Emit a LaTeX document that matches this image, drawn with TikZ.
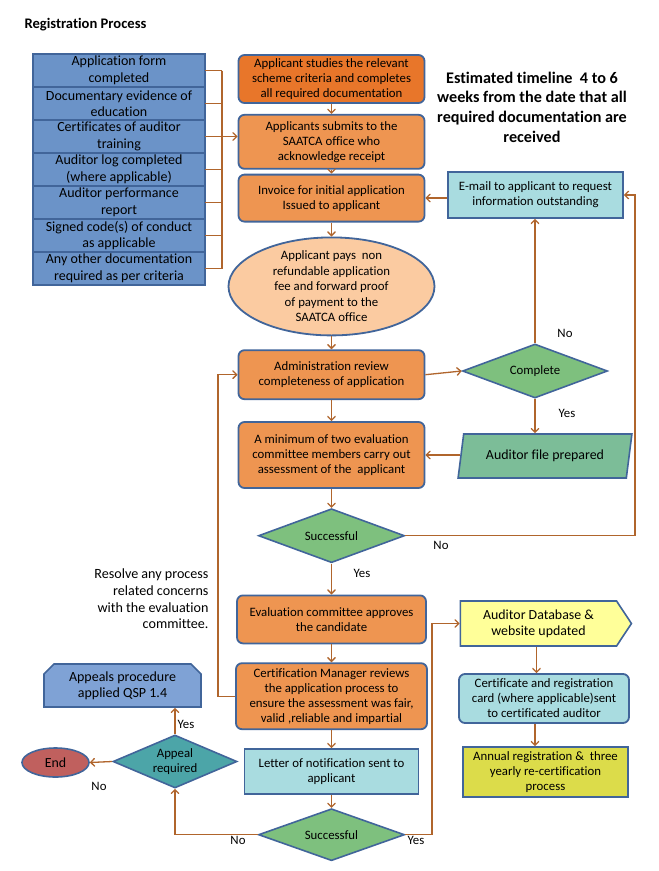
\documentclass[tikz,border=0pt]{standalone}
\usepackage{fontspec}
\setmainfont{Carlito}[Ligatures=NoCommon]
\usetikzlibrary{arrows,positioning,shapes.geometric,shapes.misc,shapes.symbols}

\definecolor{edgeblue}{HTML}{41659A}
\definecolor{flowline}{HTML}{B0652C}
\definecolor{docfill}{HTML}{6B93C8}
\definecolor{stepdark}{HTML}{E8762A}
\definecolor{stepfill}{HTML}{EE9551}
\definecolor{payfill}{HTML}{FBCBA1}
\definecolor{notefill}{HTML}{A9DCE0}
\definecolor{okgreen}{HTML}{7EC07E}
\definecolor{filegreen}{HTML}{7CBD98}
\definecolor{appealteal}{HTML}{4CA5A8}
\definecolor{endred}{HTML}{C0605E}
\definecolor{appealsfill}{HTML}{7FA2D5}
\definecolor{dbyellow}{HTML}{FFFF99}
\definecolor{annualyellow}{HTML}{DCDC4A}

\newcommand{\flowfont}{\fontsize{12.8}{15}\selectfont}
\newcommand{\docfont}{\fontsize{14}{16.5}\selectfont}

\begin{document}
\begin{tikzpicture}[x=1pt,y=-1pt,>=angle 90,node distance=12pt,
  stepbox/.style={rectangle,rounded corners=6pt,draw=edgeblue,line width=1.8pt,fill=stepfill,
    minimum width=186pt,inner sep=1pt,align=center,font=\flowfont},
  notebox/.style={rectangle,draw=edgeblue,line width=1.8pt,fill=notefill,
    inner sep=1pt,align=center,font=\flowfont},
  docbox/.style={rectangle,draw=edgeblue,line width=1.6pt,fill=docfill,minimum width=172pt,
    minimum height=33pt,inner sep=0pt,outer sep=0pt,align=center,font=\docfont},
  decision/.style={diamond,draw=edgeblue,line width=1.6pt,fill=okgreen,minimum width=146pt,
    minimum height=54pt,aspect=2.7,inner sep=0pt,align=center,font=\flowfont},
  tag/.style={font=\flowfont,inner sep=0pt},
  link/.style={draw=flowline,line width=1.3pt},
  flow/.style={link,->}]

  \useasboundingbox[fill=white] (0,0) rectangle (659,871);

  \node[anchor=west,font=\fontsize{14.6}{17}\selectfont\bfseries] (title) at (21,25) {Registration Process};

  % documents required
  \node[docbox] (doc1) at (119,70.5) {Application form\\completed};
  \node[docbox] (doc2) [below=0pt of doc1] {Documentary evidence of\\education};
  \node[docbox] (doc3) [below=0pt of doc2] {Certificates of auditor\\training};
  \node[docbox] (doc4) [below=0pt of doc3] {Auditor log completed\\(where applicable)};
  \node[docbox] (doc5) [below=0pt of doc4] {Auditor performance\\report};
  \node[docbox] (doc6) [below=0pt of doc5] {Signed code(s) of conduct\\as applicable};
  \node[docbox] (doc7) [below=0pt of doc6] {Any other documentation\\required as per criteria};
  \coordinate (brk) at (222,0);

  % main column
  \node[stepbox,fill=stepdark,minimum height=48pt] (study) at (331.5,79) {Applicant studies the relevant\\scheme criteria and completes\\all required documentation};
  \node[stepbox,minimum height=54pt] (submit) [below=10pt of study] {Applicants submits to the\\SAATCA office who\\acknowledge receipt};
  \node[stepbox,minimum height=47pt] (invoice) [below=4pt of submit] {Invoice for initial application\\Issued to applicant};
  \node[ellipse,draw=edgeblue,line width=1.8pt,fill=payfill,minimum width=206pt,minimum height=98pt,
    inner xsep=0pt,inner ysep=-4pt,align=center,font=\fontsize{12.8}{15.5}\selectfont] (pays) [below=14pt of invoice]
    {Applicant pays\ \ non\\refundable application\\fee and forward proof\\of payment to the\\SAATCA office};
  \node[stepbox,minimum height=49pt] (admin) [below=13pt of pays] {Administration review\\completeness of application};
  \node[stepbox,minimum height=66pt] (assess) [below=21pt of admin] {A minimum of two evaluation\\committee members carry out\\assessment of the\ \ applicant};
  \node[decision] (succA) [below=19pt of assess] {Successful};
  \node[stepbox,minimum height=48pt,minimum width=189pt] (approve) [below=31pt of succA] {Evaluation committee approves\\the candidate};
  \node[stepbox,minimum height=66pt,minimum width=191pt] (review) [below=18pt of approve] {Certification Manager reviews\\the application process to\\ensure the assessment was fair,\\valid ,reliable and impartial};
  \node[notebox,minimum width=174pt,minimum height=45pt] (letter) [below=18pt of review] {Letter of notification sent to\\applicant};
  \node[decision,minimum height=52pt] (succB) [below=13pt of letter] {Successful};

  % right side
  \node[align=center,font=\fontsize{16.2}{19.7}\selectfont\bfseries] (timeline) at (532,107)
    {Estimated timeline\ \ 4 to 6\\weeks from the date that all\\required documentation are\\received};
  \node[notebox,minimum width=175pt,minimum height=46pt] (email) at (535.5,195) {E-mail to applicant to request\\information outstanding};
  \node[decision,minimum width=145pt] (complete) at (535,371) {Complete};
  \node[trapezium,trapezium left angle=77,trapezium right angle=103,trapezium stretches=true,
    draw=edgeblue,line width=1.6pt,fill=filegreen,minimum width=174pt,minimum height=44pt,
    font=\fontsize{13.9}{16}\selectfont] (file) at (545,456) {Auditor file prepared};
  \node[signal,signal to=east,signal pointer angle=113,draw=edgeblue,line width=1.6pt,fill=dbyellow,
    minimum width=171pt,minimum height=45pt,inner sep=1pt,align=center,font=\fontsize{13.9}{16}\selectfont] (db) at (538.5,623.5)
    {Auditor Database \&\\website updated};
  \node[stepbox,fill=notefill,minimum width=170pt,minimum height=49pt] (card) at (544,698.5) {Certificate and registration\\card (where applicable)sent\\to certificated auditor};
  \node[notebox,fill=annualyellow,minimum width=165pt,minimum height=50pt] (annual) at (545.5,772) {Annual registration \&\ \ three\\yearly re-certification\\process};

  % left bottom
  \node[anchor=east,align=right,font=\fontsize{14.1}{16.7}\selectfont] (resolve) at (212,599)
    {Resolve any process\\related concerns\\with the evaluation\\committee.};
  \node[chamfered rectangle,chamfered rectangle corners={north west,north east},
    chamfered rectangle xsep=5pt,chamfered rectangle ysep=5pt,draw=edgeblue,line width=1.6pt,
    fill=appealsfill,minimum width=157pt,minimum height=43pt,inner sep=0pt,align=center,
    font=\fontsize{14}{16}\selectfont] (appeals) at (122.5,685.5) {Appeals procedure\\applied QSP 1.4};
  \node[decision,fill=appealteal,minimum width=124pt,minimum height=53pt,aspect=2.34] (appeal) at (175,761.5) {Appeal\\required};
  \node[ellipse,draw=edgeblue,line width=1.6pt,fill=endred,minimum width=67pt,minimum height=29pt,
    inner sep=0pt,font=\fontsize{13.9}{15}\selectfont] (finish) at (55.5,762.5) {End};

  % yes / no
  \node[tag] (noA) at (565,333) {No};
  \node[tag] (yesA) at (567,413) {Yes};
  \node[tag] (noB) at (441,545) {No};
  \node[tag] (yesB) at (362,573) {Yes};
  \node[tag] (yesC) at (186,724) {Yes};
  \node[tag] (noC) at (99,786) {No};
  \node[tag] (noD) at (238,840) {No};
  \node[tag] (yesD) at (416,840) {Yes};

  % bracket
  \path[link]
    (doc1.east) edge (doc1.east -| brk)
    (doc2.east) edge (doc2.east -| brk)
    (doc3.east) edge (doc3.east -| brk)
    (doc4.east) edge (doc4.east -| brk)
    (doc5.east) edge (doc5.east -| brk)
    (doc6.east) edge (doc6.east -| brk)
    (doc7.east) edge (doc7.east -| brk);
  \draw[link] (doc1.east -| brk) -- (doc7.east -| brk);
  \draw[flow] (doc3.east -| brk) -- (doc3.east -| submit.west);

  \path[flow]
    (study) edge (submit)
    (submit) edge (invoice)
    (invoice) edge (pays)
    (pays) edge (admin)
    (admin) edge (assess)
    (assess) edge (succA)
    (succA) edge (approve)
    (approve) edge (review)
    (review) edge (letter)
    (letter) edge (succB);

  \coordinate (rloop) at (635,0);
  \coordinate (lloop) at (218,0);
  \coordinate (rturn) at (432,0);
  \draw[flow] ([yshift=-3pt]email.west) -- ([yshift=-3pt]email.west -| invoice.east);
  \draw[flow] (complete.north) -- (complete.north |- email.south);
  \draw[flow] (admin.east) -- (complete.west);
  \draw[flow] (complete.south) -- (complete.south |- file.north);
  \draw[flow] (file.west |- assess.east) -- (assess.east);
  \draw[flow] (succA.east) -| (rloop |- email.east) -- (email.east);
  \draw[flow] (review.west) -- (review.west -| lloop) |- (admin.west);
  \draw[flow] (succB.west) -| (appeal.south);
  \draw[flow] (appeal.north) -- (appeal.north |- appeals.south);
  \draw[flow] (appeal.west) -- (finish.east);
  \draw[flow] (succB.east) -- (succB.east -| rturn) |- (db.west);
  \draw[flow] ([xshift=-2pt]db.south) -- ([xshift=-2pt]db.south |- card.north);
  \draw[flow] ([xshift=-9pt]card.south) -- ([xshift=-9pt]card.south |- annual.north);
\end{tikzpicture}
\end{document}
